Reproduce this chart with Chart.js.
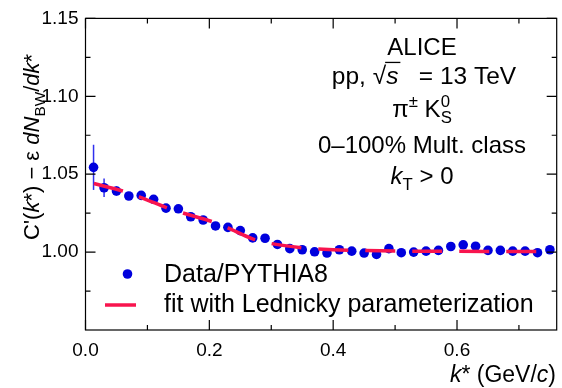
<!DOCTYPE html>
<html>
<head>
<meta charset="utf-8">
<script src="https://cdn.jsdelivr.net/npm/chart.js@4.4.0/dist/chart.umd.min.js"></script>
<style>
  html, body { margin: 0; padding: 0; background: #fff; }
  #wrap { width: 562px; height: 388px; }
</style>
</head>
<body>
<div id="wrap"><canvas id="kstarChart" width="562" height="388"></canvas></div>
<script>
    // k* bin centres (GeV/c) and data/PYTHIA8 ratio
    const kStar = [0.013, 0.03, 0.05, 0.07, 0.09, 0.11, 0.13, 0.15, 0.17, 0.19,
                   0.21, 0.23, 0.25, 0.27, 0.29, 0.31, 0.33, 0.35, 0.37, 0.39,
                   0.41, 0.43, 0.45, 0.47, 0.49, 0.51, 0.53, 0.55, 0.57, 0.59,
                   0.61, 0.63, 0.65, 0.67, 0.69, 0.71, 0.73, 0.75];
    const ratio = [1.0544, 1.0413, 1.0392, 1.0360, 1.0364, 1.0339, 1.0282, 1.0278, 1.0227, 1.0206,
                   1.0168, 1.0159, 1.0138, 1.0091, 1.0089, 1.0049, 1.0022, 1.0015, 1.0002, 0.9994,
                   1.0015, 1.0006, 0.9994, 0.9985, 1.0022, 0.9996, 1.0000, 1.0006, 1.0011, 1.0036,
                   1.0047, 1.0038, 1.0011, 1.0011, 1.0006, 1.0006, 0.9996, 1.0015];
    const ratioErr = [0.0145, 0.006, 0.003, 0.002, 0.002, 0.002, 0.002, 0.002, 0.002, 0.002,
                      0.002, 0.002, 0.002, 0.002, 0.002, 0.002, 0.002, 0.002, 0.002, 0.002,
                      0.002, 0.002, 0.002, 0.002, 0.002, 0.002, 0.002, 0.002, 0.002, 0.002,
                      0.002, 0.002, 0.002, 0.002, 0.002, 0.002, 0.002, 0.002];

    // Lednicky fit curve, sampled by eye along the dashed line
    const fitK   = [0.0135, 0.06, 0.09, 0.14, 0.16, 0.21, 0.23, 0.27, 0.30, 0.35, 0.40, 0.45, 0.50, 0.60, 0.70, 0.735];
    const fitVal = [1.0440, 1.0392, 1.0350, 1.0272, 1.0248, 1.0188, 1.0155, 1.0085, 1.0055, 1.0028, 1.0015, 1.0010, 1.0007, 1.0005, 1.0004, 1.0004];

    const xTickValues = [0.0, 0.2, 0.4, 0.6];
    const xMinorTicks = [0.1, 0.3, 0.5, 0.7];
    const yTickValues = [1.00, 1.05, 1.10, 1.15];
    const yMinorTicks = [0.975, 1.025, 1.075, 1.125];

    const BLUE = '#0000dd';
    const RED = '#f8144e';
    const FONT = '"Liberation Sans", Arial, Helvetica, sans-serif';

    function fontOf(size, italic) {
        return (italic ? 'italic ' : '') + size + 'px ' + FONT;
    }

    function partWidth(ctx, p, size) {
        if (p.stack) {
            ctx.font = fontOf(size * 0.7, false);
            return Math.max(ctx.measureText(p.stack[0]).width, ctx.measureText(p.stack[1]).width);
        }
        const s = (p.sub || p.sup) ? size * 0.7 : size;
        ctx.font = fontOf(s, p.it);
        return ctx.measureText(p.t).width + (p.gap || 0);
    }

    // small TLatex-like helper: italic runs, sub/superscripts, overline
    function drawRich(ctx, parts, x, y, size, align) {
        const widths = parts.map(p => partWidth(ctx, p, size));
        const total = widths.reduce((a, b) => a + b, 0);
        let cx = align === 'center' ? x - total / 2 : align === 'right' ? x - total : x;
        ctx.textAlign = 'left';
        ctx.textBaseline = 'alphabetic';
        parts.forEach((p, i) => {
            if (p.stack) {
                ctx.font = fontOf(size * 0.7, false);
                ctx.fillText(p.stack[0], cx, y - size * 0.42);
                ctx.fillText(p.stack[1], cx, y + size * 0.25);
            } else {
                const s = (p.sub || p.sup) ? size * 0.7 : size;
                ctx.font = fontOf(s, p.it);
                const dy = p.sub ? size * 0.25 : p.sup ? -size * 0.42 : 0;
                ctx.fillText(p.t, cx, y + dy);
                if (p.over) {
                    ctx.save();
                    ctx.strokeStyle = '#000';
                    ctx.lineWidth = 1.3;
                    ctx.beginPath();
                    ctx.moveTo(cx - 1, y - size * 0.88);
                    ctx.lineTo(cx + widths[i] + 2, y - size * 0.88);
                    ctx.stroke();
                    ctx.restore();
                }
            }
            cx += widths[i];
        });
    }

    const errorBars = {
        id: 'errorBars',
        beforeDatasetsDraw(chart) {
            const ctx = chart.ctx;
            const xs = chart.scales.x, ys = chart.scales.y;
            ctx.save();
            ctx.strokeStyle = '#3030ee';
            ctx.lineWidth = 1.5;
            kStar.forEach((k, i) => {
                const px = xs.getPixelForValue(k);
                ctx.beginPath();
                ctx.moveTo(px, ys.getPixelForValue(ratio[i] - ratioErr[i]));
                ctx.lineTo(px, ys.getPixelForValue(ratio[i] + ratioErr[i]));
                ctx.stroke();
            });
            ctx.restore();
        }
    };

    const frameAndText = {
        id: 'frameAndText',
        afterDraw(chart) {
            const ctx = chart.ctx;
            const a = chart.chartArea;
            const xs = chart.scales.x, ys = chart.scales.y;
            ctx.save();
            ctx.strokeStyle = '#000';
            ctx.lineWidth = 1.2;
            ctx.strokeRect(a.left, a.top, a.right - a.left, a.bottom - a.top);

            // inward ticks on all four sides
            ctx.beginPath();
            const xTick = (v, len) => {
                const px = xs.getPixelForValue(v);
                ctx.moveTo(px, a.bottom); ctx.lineTo(px, a.bottom - len);
                ctx.moveTo(px, a.top); ctx.lineTo(px, a.top + len);
            };
            const yTick = (v, len) => {
                const py = ys.getPixelForValue(v);
                ctx.moveTo(a.left, py); ctx.lineTo(a.left + len, py);
                ctx.moveTo(a.right, py); ctx.lineTo(a.right - len, py);
            };
            xTickValues.forEach(v => xTick(v, 10));
            xMinorTicks.forEach(v => xTick(v, 5));
            yTickValues.forEach(v => yTick(v, 10));
            yMinorTicks.forEach(v => yTick(v, 5));
            ctx.stroke();

            ctx.fillStyle = '#000';
            // axis titles
            drawRich(ctx, [{ t: 'k', it: true }, { t: '* (GeV/' }, { t: 'c', it: true }, { t: ')' }], 556, 382, 23, 'right');
            ctx.save();
            ctx.translate(39, 240);
            ctx.rotate(-Math.PI / 2);
            drawRich(ctx, [
                { t: "C'(" }, { t: 'k', it: true }, { t: '*)' }, { t: ' \u2212 \u03b5 ' },
                { t: 'dN', it: true }, { t: 'BW', sub: true }, { t: '/' }, { t: 'dk', it: true }, { t: '*' }
            ], 0, 0, 22, 'left');
            ctx.restore();

            // annotation block
            const cx = 422;
            drawRich(ctx, [{ t: 'ALICE' }], cx, 55, 24, 'center');
            drawRich(ctx, [{ t: 'pp, ' }, { t: '\u221a' }, { t: 's', it: true, over: true }, { t: '   = 13 TeV' }], cx + 2, 84, 24.5, 'center');
            drawRich(ctx, [{ t: '\u03c0' }, { t: '\u00b1', sup: true }, { t: ' K' }, { stack: ['0', 'S'] }], cx, 117, 24, 'center');
            drawRich(ctx, [{ t: '0\u2013100% Mult. class' }], cx, 153, 24, 'center');
            drawRich(ctx, [{ t: 'k', it: true }, { t: 'T', sub: true }, { t: ' > 0' }], cx, 184, 24, 'center');

            // legend
            ctx.fillStyle = BLUE;
            ctx.beginPath();
            ctx.arc(127.5, 274, 4.8, 0, Math.PI * 2);
            ctx.fill();
            ctx.strokeStyle = RED;
            ctx.lineWidth = 3.5;
            ctx.beginPath();
            ctx.moveTo(105, 305);
            ctx.lineTo(136, 305);
            ctx.stroke();
            ctx.fillStyle = '#000';
            drawRich(ctx, [{ t: 'Data/PYTHIA8' }], 164, 282, 25, 'left');
            drawRich(ctx, [{ t: 'fit with Lednicky parameterization' }], 164, 312, 25, 'left');
            ctx.restore();
        }
    };

    const ctx = document.getElementById('kstarChart').getContext('2d');
    new Chart(ctx, {
        type: 'scatter',
        data: {
            datasets: [{
                label: 'Data/PYTHIA8',
                data: kStar.map((k, i) => ({ x: k, y: ratio[i] })),
                backgroundColor: BLUE,
                borderWidth: 0,
                pointRadius: 4.8,
                order: 1
            }, {
                type: 'line',
                label: 'fit with Lednicky parameterization',
                data: fitK.map((k, i) => ({ x: k, y: fitVal[i] })),
                borderColor: RED,
                borderWidth: 3.5,
                borderDash: [30, 17],
                pointRadius: 0,
                fill: false,
                cubicInterpolationMode: 'monotone',
                order: 0
            }]
        },
        options: {
            responsive: false,
            animation: false,
            devicePixelRatio: 1,
            layout: { padding: { left: 0, right: 5.3, top: 15.7, bottom: 0 } },
            plugins: {
                legend: { display: false },
                tooltip: { enabled: false }
            },
            scales: {
                x: {
                    type: 'linear',
                    min: 0,
                    max: 0.761,
                    grid: { display: false, drawTicks: false },
                    border: { display: false },
                    afterBuildTicks: s => { s.ticks = xTickValues.map(v => ({ value: v })); },
                    afterFit: s => { s.height = 58; },
                    ticks: {
                        padding: 9,
                        color: '#000',
                        font: { family: FONT, size: 19 },
                        callback: v => v.toFixed(1)
                    }
                },
                y: {
                    min: 0.95,
                    max: 1.15,
                    grid: { display: false, drawTicks: false },
                    border: { display: false },
                    afterBuildTicks: s => { s.ticks = yTickValues.map(v => ({ value: v })); },
                    afterFit: s => { s.width = 85.5; },
                    ticks: {
                        padding: 7,
                        color: '#000',
                        font: { family: FONT, size: 19 },
                        callback: v => v.toFixed(2)
                    }
                }
            }
        },
        plugins: [errorBars, frameAndText]
    });
</script>
</body>
</html>
